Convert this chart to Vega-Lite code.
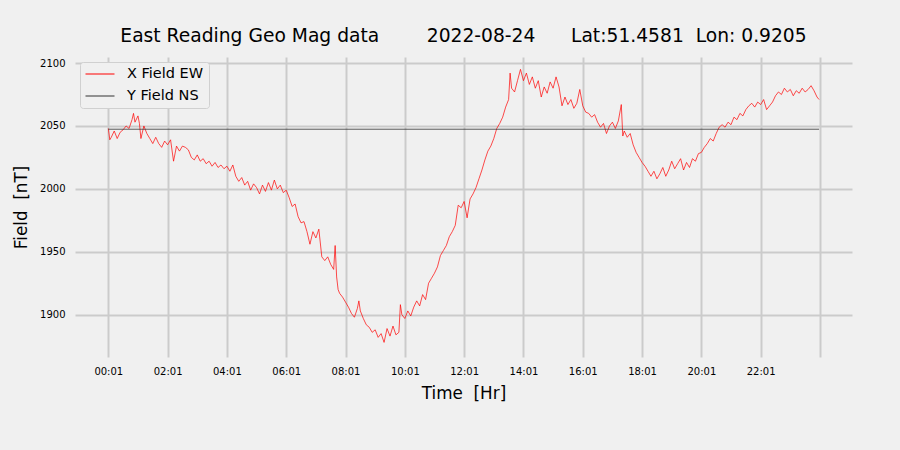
{
"$schema": "https://vega.github.io/schema/vega-lite/v6.json",
"width": 777, "height": 300,
"autosize": {"type": "none"},
"padding": {"left": 75, "top": 57, "right": 48, "bottom": 93},
"background": "#f0f0f0",
"title": {"text": "East Reading Geo Mag data\u00a0\u00a0\u00a0\u00a0\u00a0\u00a0\u00a0\u00a02022-08-24\u00a0\u00a0\u00a0\u00a0\u00a0\u00a0Lat:51.4581\u00a0\u00a0Lon: 0.9205", "fontSize": 18.7, "font": "DejaVu Sans", "fontWeight": "normal", "color": "#000000", "offset": 11, "anchor": "middle"},
"config": {
  "view": {"stroke": null, "fill": "#f0f0f0"},
  "font": "DejaVu Sans",
  "axis": {"grid": true, "gridColor": "#cbcbcb", "gridWidth": 2, "ticks": false, "domain": false, "labelFontSize": 10, "labelColor": "#000000", "titleFontSize": 16.8, "titleFontWeight": "normal", "titleColor": "#000000", "labelFont": "DejaVu Sans", "titleFont": "DejaVu Sans"}
},
"datasets": {
"xf": [
{"h":0.00,"v":2048},{"h":0.05,"v":2039},{"h":0.1,"v":2041},{"h":0.2,"v":2046},{"h":0.3,"v":2040},{"h":0.4,"v":2045},{"h":0.5,"v":2047},{"h":0.6,"v":2050},{"h":0.7,"v":2048},{"h":0.8,"v":2055},{"h":0.85,"v":2060},{"h":0.9,"v":2053},{"h":1.0,"v":2058},{"h":1.05,"v":2052},{"h":1.1,"v":2040},{"h":1.2,"v":2050},{"h":1.3,"v":2044},{"h":1.4,"v":2040},{"h":1.5,"v":2036},{"h":1.6,"v":2041},{"h":1.7,"v":2036},{"h":1.8,"v":2033},{"h":1.9,"v":2038},{"h":2.0,"v":2035},{"h":2.1,"v":2039},{"h":2.2,"v":2022},{"h":2.3,"v":2034},{"h":2.4,"v":2030},{"h":2.5,"v":2034},{"h":2.6,"v":2033},{"h":2.7,"v":2031},{"h":2.8,"v":2025},{"h":2.9,"v":2023},{"h":3.0,"v":2027},{"h":3.1,"v":2022},{"h":3.2,"v":2024},{"h":3.3,"v":2020},{"h":3.4,"v":2022},{"h":3.5,"v":2018},{"h":3.6,"v":2021},{"h":3.7,"v":2017},{"h":3.8,"v":2019},{"h":3.9,"v":2016},{"h":4.0,"v":2018},{"h":4.1,"v":2014},{"h":4.2,"v":2019},{"h":4.3,"v":2010},{"h":4.4,"v":2006},{"h":4.5,"v":2009},{"h":4.6,"v":2003},{"h":4.7,"v":2006},{"h":4.8,"v":1999},{"h":4.9,"v":2004},{"h":5.0,"v":2001},{"h":5.1,"v":1996},{"h":5.2,"v":2003},{"h":5.3,"v":1998},{"h":5.4,"v":2005},{"h":5.5,"v":1999},{"h":5.6,"v":2007},{"h":5.7,"v":2000},{"h":5.8,"v":2003},{"h":5.9,"v":1997},{"h":6.0,"v":1999},{"h":6.1,"v":1993},{"h":6.2,"v":1986},{"h":6.3,"v":1988},{"h":6.4,"v":1978},{"h":6.5,"v":1973},{"h":6.6,"v":1974},{"h":6.7,"v":1966},{"h":6.8,"v":1956},{"h":6.9,"v":1966},{"h":7.0,"v":1961},{"h":7.1,"v":1968},{"h":7.2,"v":1946},{"h":7.3,"v":1943},{"h":7.4,"v":1946},{"h":7.5,"v":1940},{"h":7.6,"v":1936},{"h":7.65,"v":1955},{"h":7.7,"v":1930},{"h":7.75,"v":1920},{"h":7.8,"v":1917},{"h":7.9,"v":1914},{"h":8.0,"v":1910},{"h":8.1,"v":1906},{"h":8.2,"v":1901},{"h":8.3,"v":1898},{"h":8.4,"v":1905},{"h":8.45,"v":1911},{"h":8.5,"v":1903},{"h":8.6,"v":1897},{"h":8.7,"v":1892},{"h":8.8,"v":1890},{"h":8.9,"v":1886},{"h":9.0,"v":1888},{"h":9.1,"v":1882},{"h":9.2,"v":1885},{"h":9.3,"v":1878},{"h":9.4,"v":1889},{"h":9.5,"v":1883},{"h":9.6,"v":1891},{"h":9.7,"v":1884},{"h":9.8,"v":1886},{"h":9.85,"v":1908},{"h":9.9,"v":1900},{"h":10.0,"v":1897},{"h":10.1,"v":1903},{"h":10.2,"v":1899},{"h":10.3,"v":1906},{"h":10.4,"v":1911},{"h":10.5,"v":1907},{"h":10.6,"v":1916},{"h":10.7,"v":1912},{"h":10.8,"v":1925},{"h":10.9,"v":1929},{"h":11.0,"v":1933},{"h":11.1,"v":1938},{"h":11.2,"v":1947},{"h":11.3,"v":1951},{"h":11.4,"v":1955},{"h":11.5,"v":1962},{"h":11.6,"v":1966},{"h":11.7,"v":1971},{"h":11.8,"v":1987},{"h":11.9,"v":1985},{"h":12.0,"v":1990},{"h":12.1,"v":1977},{"h":12.2,"v":1992},{"h":12.3,"v":1996},{"h":12.4,"v":2001},{"h":12.5,"v":2008},{"h":12.6,"v":2015},{"h":12.7,"v":2023},{"h":12.8,"v":2030},{"h":12.9,"v":2034},{"h":13.0,"v":2040},{"h":13.1,"v":2048},{"h":13.2,"v":2052},{"h":13.3,"v":2057},{"h":13.4,"v":2065},{"h":13.5,"v":2071},{"h":13.55,"v":2092},{"h":13.6,"v":2080},{"h":13.7,"v":2077},{"h":13.8,"v":2086},{"h":13.9,"v":2095},{"h":14.0,"v":2086},{"h":14.1,"v":2092},{"h":14.2,"v":2083},{"h":14.3,"v":2089},{"h":14.4,"v":2080},{"h":14.5,"v":2086},{"h":14.6,"v":2073},{"h":14.7,"v":2081},{"h":14.8,"v":2076},{"h":14.9,"v":2085},{"h":15.0,"v":2080},{"h":15.1,"v":2089},{"h":15.2,"v":2081},{"h":15.3,"v":2066},{"h":15.4,"v":2073},{"h":15.5,"v":2067},{"h":15.6,"v":2071},{"h":15.7,"v":2064},{"h":15.8,"v":2068},{"h":15.9,"v":2079},{"h":16.0,"v":2066},{"h":16.1,"v":2061},{"h":16.2,"v":2060},{"h":16.3,"v":2057},{"h":16.4,"v":2059},{"h":16.5,"v":2053},{"h":16.6,"v":2049},{"h":16.7,"v":2052},{"h":16.8,"v":2044},{"h":16.9,"v":2050},{"h":17.0,"v":2053},{"h":17.1,"v":2048},{"h":17.2,"v":2054},{"h":17.3,"v":2067},{"h":17.35,"v":2042},{"h":17.4,"v":2046},{"h":17.5,"v":2041},{"h":17.6,"v":2044},{"h":17.7,"v":2035},{"h":17.8,"v":2029},{"h":17.9,"v":2025},{"h":18.0,"v":2021},{"h":18.1,"v":2018},{"h":18.2,"v":2014},{"h":18.3,"v":2010},{"h":18.4,"v":2014},{"h":18.5,"v":2008},{"h":18.6,"v":2012},{"h":18.7,"v":2017},{"h":18.8,"v":2010},{"h":18.9,"v":2015},{"h":19.0,"v":2022},{"h":19.1,"v":2016},{"h":19.2,"v":2020},{"h":19.3,"v":2024},{"h":19.4,"v":2015},{"h":19.5,"v":2021},{"h":19.6,"v":2017},{"h":19.7,"v":2024},{"h":19.8,"v":2022},{"h":19.9,"v":2028},{"h":20.0,"v":2029},{"h":20.1,"v":2033},{"h":20.2,"v":2036},{"h":20.3,"v":2040},{"h":20.4,"v":2038},{"h":20.5,"v":2044},{"h":20.6,"v":2049},{"h":20.7,"v":2051},{"h":20.8,"v":2049},{"h":20.9,"v":2053},{"h":21.0,"v":2051},{"h":21.1,"v":2057},{"h":21.2,"v":2055},{"h":21.3,"v":2060},{"h":21.4,"v":2058},{"h":21.5,"v":2063},{"h":21.6,"v":2066},{"h":21.7,"v":2068},{"h":21.8,"v":2065},{"h":21.9,"v":2069},{"h":22.0,"v":2067},{"h":22.1,"v":2071},{"h":22.2,"v":2063},{"h":22.3,"v":2066},{"h":22.4,"v":2069},{"h":22.5,"v":2074},{"h":22.6,"v":2077},{"h":22.7,"v":2075},{"h":22.8,"v":2080},{"h":22.9,"v":2077},{"h":23.0,"v":2079},{"h":23.1,"v":2074},{"h":23.2,"v":2078},{"h":23.3,"v":2076},{"h":23.4,"v":2080},{"h":23.5,"v":2077},{"h":23.6,"v":2079},{"h":23.7,"v":2082},{"h":23.8,"v":2078},{"h":23.9,"v":2073},{"h":23.97,"v":2071}
],
"yf": [{"h":0.0,"v":2047.4},{"h":23.97,"v":2047.4}]
},
"layer": [
{"data": {"name": "xf"},
 "mark": {"type": "line", "strokeWidth": 0.7},
 "encoding": {
  "x": {"field": "h", "type": "quantitative", "scale": {"domain": [-1.123, 25.08], "nice": false, "zero": false},
        "axis": {"values": [0,2,4,6,8,10,12,14,16,18,20,22,24], "labelExpr": "datum.value > 23 ? '' : (datum.value < 10 ? '0' : '') + datum.value + ':01'", "labelPadding": 9, "title": "Time\u00a0\u00a0[Hr]", "titleX": 388.5, "titleY": 36, "titleBaseline": "middle", "titleAlign": "center"}},
  "y": {"field": "v", "type": "quantitative", "scale": {"domain": [1866.4, 2104.8], "nice": false, "zero": false},
        "axis": {"values": [1900,1950,2000,2050,2100], "format": "d", "labelPadding": 10, "title": "Field\u00a0\u00a0[nT]", "titleX": -54, "titleY": 150, "titleBaseline": "middle", "titleAlign": "center", "titleAngle": -90}},
  "color": {"datum": "X Field EW", "type": "nominal",
            "scale": {"domain": ["X Field EW", "Y Field NS"], "range": ["#ff0000", "#333333"]},
            "legend": {"title": null, "orient": "none", "legendX": 5, "legendY": 5, "symbolType": "stroke", "symbolSize": 841, "symbolStrokeWidth": 1, "labelFontSize": 14.5, "labelColor": "#000000", "labelOffset": 12, "padding": 5, "clipHeight": 14, "rowPadding": 7, "fillColor": "#f0f0f0", "strokeColor": "#d0d0d0", "cornerRadius": 3}}
 }},
{"data": {"name": "yf"},
 "mark": {"type": "line", "strokeWidth": 0.8},
 "encoding": {
  "x": {"field": "h", "type": "quantitative"},
  "y": {"field": "v", "type": "quantitative"},
  "color": {"datum": "Y Field NS", "type": "nominal"}
 }}
]
}
